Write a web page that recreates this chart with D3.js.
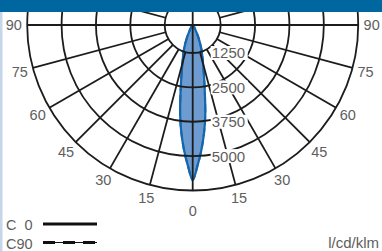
<!DOCTYPE html>
<html>
<head>
<meta charset="utf-8">
<script src="https://cdn.jsdelivr.net/npm/d3@7"></script>
<style>
  body { margin: 0; background: #fff; }
  svg text { font-family: "Liberation Sans", Arial, sans-serif; fill: #5e5e5e; }
</style>
</head>
<body>
<svg id="chart" width="382" height="251"></svg>
<script>
// polar grid values
var ringValues = [1250, 2500, 3750, 5000, 6250];
var ringLabels = [1250, 2500, 3750, 5000];
var angleLabels = [90, 75, 60, 45, 30, 15, 0];

// luminous intensity (cd/klm) by angle from nadir
var angles = [0, 2, 4, 6, 8, 10, 12, 16, 20, 25, 30, 40, 90];
var c0 = [5870, 5340, 4780, 4180, 3520, 2790, 2240, 1550, 1150, 700, 420, 300, 0];
var c90 = [5870, 5340, 4780, 4180, 3520, 2790, 2240, 1550, 1150, 700, 420, 300, 0];

var W = 382, H = 251, cx = 192.7, cy = 25, headerH = 12;

var svg = d3.select("#chart");

// radius scale, hub circle is the 1250 ring
var r = d3.scaleLinear().domain([1250, 6250]).range([28, 165.5]);
function rad(v) { return Math.max(0, r(v)); }

svg.append("defs").append("clipPath").attr("id", "clip")
  .append("rect").attr("x", 0).attr("y", headerH).attr("width", W).attr("height", H - headerH);

var g = svg.append("g").attr("clip-path", "url(#clip)")
  .append("g").attr("transform", "translate(" + cx + "," + cy + ")");

// beam
function curvePoints(vals) {
  var pts = [];
  for (var i = angles.length - 1; i > 0; i--) pts.push({a: -angles[i], v: vals[i]});
  for (var j = 0; j < angles.length; j++) pts.push({a: angles[j], v: vals[j]});
  return pts;
}
var line = d3.lineRadial()
  .angle(d => Math.PI - d.a * Math.PI / 180)
  .radius(d => rad(d.v))
  .curve(d3.curveCatmullRom.alpha(0.5));

g.append("path").attr("d", line(curvePoints(c0)) + "Z")
  .attr("fill", "#6e9bd0").attr("stroke", "none");
g.append("path").attr("d", line(curvePoints(c90)))
  .attr("fill", "none").attr("stroke", "#1466ad").attr("stroke-width", 2)
  .attr("stroke-dasharray", "8,4");
g.append("path").attr("d", line(curvePoints(c0)))
  .attr("fill", "none").attr("stroke", "#1466ad").attr("stroke-width", 2.2);

// grid
var gridColor = "#1c1c1c";
g.selectAll("circle.ring").data(ringValues).enter().append("circle")
  .attr("class", "ring").attr("r", d => r(d))
  .attr("fill", "none").attr("stroke", gridColor).attr("stroke-width", 1.8);

var spokes = d3.range(0, 360, 15).filter(a => a % 90 !== 0);
g.selectAll("line.spoke").data(spokes).enter().append("line")
  .attr("class", "spoke")
  .attr("x1", a => r(1250) * Math.sin(a * Math.PI / 180))
  .attr("y1", a => r(1250) * Math.cos(a * Math.PI / 180))
  .attr("x2", a => r(6250) * Math.sin(a * Math.PI / 180))
  .attr("y2", a => r(6250) * Math.cos(a * Math.PI / 180))
  .attr("stroke", gridColor).attr("stroke-width", 1.8);

// full diameters
g.append("line").attr("x1", -r(6250)).attr("x2", r(6250)).attr("y1", 0).attr("y2", 0)
  .attr("stroke", gridColor).attr("stroke-width", 1.8);
g.append("line").attr("x1", 0).attr("x2", 0).attr("y1", -r(6250)).attr("y2", r(6250))
  .attr("stroke", gridColor).attr("stroke-width", 1.8);

// ring labels with white box
var rl = g.selectAll("g.rl").data(ringLabels).enter().append("g")
  .attr("class", "rl").attr("transform", d => "translate(19," + r(d) + ")");
rl.append("rect").attr("x", -1).attr("y", -7).attr("width", 37).attr("height", 14).attr("fill", "#fff");
rl.append("text").attr("dy", "0.36em").style("font-size", "15px").text(d => d);

// angle labels
var al = [];
angleLabels.forEach(function(a) {
  al.push(a);
  if (a !== 0) al.push(-a);
});
var outer = svg.append("g").attr("transform", "translate(" + cx + "," + cy + ")");
outer.selectAll("text").data(al).enter().append("text")
  .attr("x", a => (a === 0 ? 186 : 179) * Math.sin(a * Math.PI / 180))
  .attr("y", a => (a === 0 ? 186 : 179) * Math.cos(a * Math.PI / 180))
  .attr("dy", "0.36em").attr("text-anchor", "middle")
  .style("font-size", "14.5px").text(a => Math.abs(a));

// header and side strip
svg.append("rect").attr("x", 0).attr("y", 0).attr("width", W).attr("height", headerH).attr("fill", "#00669f");
svg.append("rect").attr("x", 0).attr("y", headerH).attr("width", 2.5).attr("height", H - headerH).attr("fill", "#c6d6ea");

// legend
var legend = [{name: "C\u20070", dash: null, y: 225}, {name: "C90", dash: "12,8", y: 243.5}];
var lg = svg.selectAll("g.lg").data(legend).enter().append("g").attr("class", "lg");
lg.append("text").attr("x", 6).attr("y", d => d.y).attr("dy", "0.36em")
  .style("font-size", "14.5px").text(d => d.name);
lg.filter(d => d.dash).append("line").attr("x1", 43).attr("x2", 97)
  .attr("y1", d => d.y - 1).attr("y2", d => d.y - 1)
  .attr("stroke", "#111").attr("stroke-width", 1);
lg.append("line").attr("x1", 43).attr("x2", 97)
  .attr("y1", d => d.y - 1).attr("y2", d => d.y - 1)
  .attr("stroke", "#111").attr("stroke-width", 3.2)
  .attr("stroke-dasharray", d => d.dash);

svg.append("text").attr("x", 379).attr("y", 243).attr("dy", "0.36em")
  .attr("text-anchor", "end").style("font-size", "15px").text("l/cd/klm");
</script>
</body>
</html>
